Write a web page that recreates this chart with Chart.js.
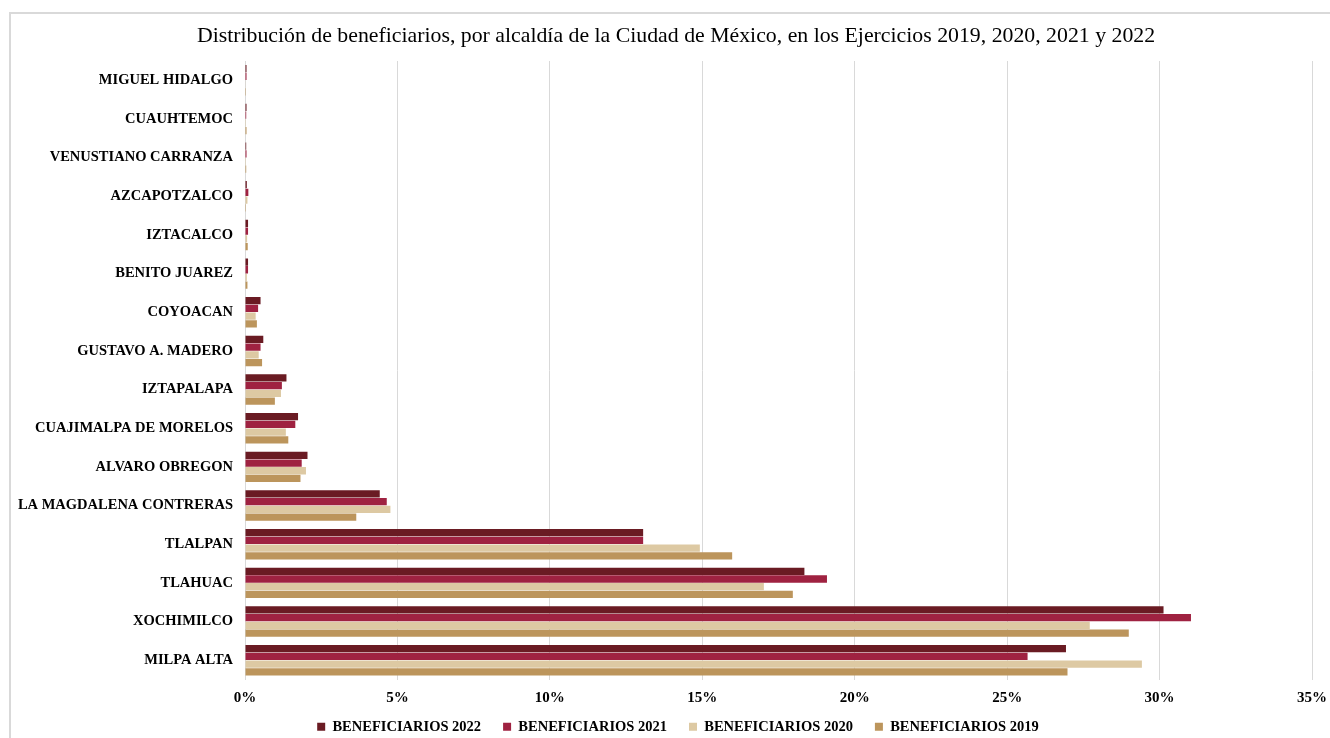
<!DOCTYPE html>
<html>
<head>
<meta charset="utf-8">
<script src="https://cdn.jsdelivr.net/npm/chart.js@4"></script>
<style>
  html, body { margin: 0; padding: 0; background: #fff; }
  #wrap { position: relative; width: 1330px; height: 738px; }
  #frame { position: absolute; left: 9px; top: 12px; right: 0; bottom: 0; border-top: 2px solid #d9d9d9; border-left: 2px solid #d9d9d9; }
  canvas { position: absolute; left: 0; top: 0; }
</style>
</head>
<body>
<div id="wrap">
  <div id="frame"></div>
  <canvas id="c" width="1330" height="738"></canvas>
</div>
<script>
const categories = [
  "MIGUEL HIDALGO", "CUAUHTEMOC", "VENUSTIANO CARRANZA", "AZCAPOTZALCO",
  "IZTACALCO", "BENITO JUAREZ", "COYOACAN", "GUSTAVO A. MADERO",
  "IZTAPALAPA", "CUAJIMALPA DE MORELOS", "ALVARO OBREGON",
  "LA MAGDALENA CONTRERAS", "TLALPAN", "TLAHUAC", "XOCHIMILCO", "MILPA ALTA"
];
const seriesNames = ["BENEFICIARIOS 2022", "BENEFICIARIOS 2021", "BENEFICIARIOS 2020", "BENEFICIARIOS 2019"];
const values2022 = [0.05, 0.05, 0.04, 0.06, 0.10, 0.10, 0.51, 0.60, 1.36, 1.74, 2.05, 4.42, 13.06, 18.35, 30.13, 26.93];
const values2021 = [0.05, 0.04, 0.05, 0.11, 0.10, 0.10, 0.43, 0.51, 1.21, 1.65, 1.86, 4.65, 13.06, 19.09, 31.03, 25.67];
const values2020 = [0.02, 0.03, 0.03, 0.08, 0.07, 0.06, 0.35, 0.45, 1.18, 1.34, 2.00, 4.77, 14.92, 17.02, 27.71, 29.42];
const values2019 = [0.03, 0.05, 0.04, 0.03, 0.09, 0.08, 0.39, 0.56, 0.98, 1.42, 1.82, 3.65, 15.98, 17.97, 28.99, 26.98];
const xTicks = [0, 5, 10, 15, 20, 25, 30, 35];
const colors = ["#6A1B23", "#9F2241", "#DDC9A3", "#BC955C"];
const titleText = "Distribución de beneficiarios, por alcaldía de la Ciudad de México, en los Ejercicios 2019, 2020, 2021 y 2022";

const serif = "'Liberation Serif', 'DejaVu Serif', serif";
const allValues = [values2022, values2021, values2020, values2019];

const titlePlugin = {
  id: 'offsetTitle',
  afterLayout(chart) {
    const lg = chart.legend;
    if (lg) { lg.top -= 10; lg.bottom -= 10; lg.left += 17; lg.right += 17; }
  },
  afterDraw(chart) {
    const ctx = chart.ctx;
    ctx.save();
    ctx.font = "21.8px " + serif;
    ctx.fillStyle = '#000';
    ctx.textAlign = 'center';
    ctx.textBaseline = 'middle';
    ctx.fillText(titleText, 676, 36);
    ctx.restore();
  }
};

new Chart(document.getElementById('c'), {
  type: 'bar',
  data: {
    labels: categories,
    datasets: allValues.map((v, i) => ({
      label: seriesNames[i],
      data: v,
      backgroundColor: colors[i],
      borderWidth: 0,
      barPercentage: 0.94,
      categoryPercentage: 0.8
    }))
  },
  plugins: [titlePlugin],
  options: {
    indexAxis: 'y',
    responsive: false,
    animation: false,
    layout: { padding: { left: 10, right: 18, top: 61, bottom: -16 } },
    plugins: {
      title: { display: false },
      legend: {
        position: 'bottom',
        labels: {
          color: '#000',
          font: { family: serif, size: 14.5, weight: 'bold' },
          boxWidth: 8,
          boxHeight: 8,
          padding: 22
        }
      },
      tooltip: { enabled: false }
    },
    scales: {
      x: {
        min: 0,
        max: 35,
        afterBuildTicks: (s) => { s.ticks = xTicks.map(v => ({ value: v })); },
        afterFit: (s) => { s.height = 28; s.paddingRight = 0; s.paddingLeft = 0; },
        ticks: {
          color: '#000',
          font: { family: serif, size: 15, weight: 'bold' },
          callback: (v) => v + '%',
          padding: 10,
          maxRotation: 0
        },
        grid: { color: '#d9d9d9', lineWidth: 1, drawTicks: false },
        border: { display: false }
      },
      y: {
        afterFit: (s) => { s.width = 235; },
        ticks: {
          color: '#000',
          font: { family: serif, size: 14.5, weight: 'bold' },
          padding: 4
        },
        grid: { display: false },
        border: { display: true, color: '#d9d9d9', width: 1 }
      }
    }
  }
});
</script>
</body>
</html>
